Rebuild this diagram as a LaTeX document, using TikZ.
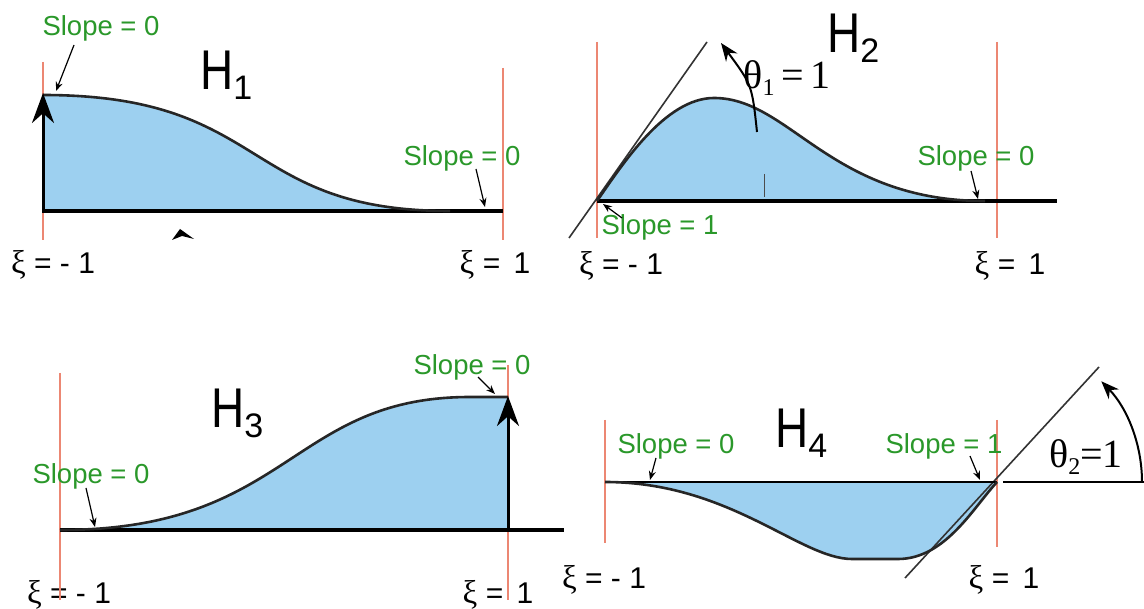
\documentclass[tikz,border=0pt]{standalone}
\usepackage{fontspec}
\setmainfont{Liberation Sans}
\newfontfamily\serifgr{Liberation Serif}
\usetikzlibrary{arrows.meta}
\definecolor{redline}{RGB}{236,135,115}
\definecolor{fillblue}{RGB}{157,208,240}
\definecolor{slopegreen}{RGB}{42,152,42}
\newcommand{\xilab}[1]{{\serifgr\fontsize{33}{33}\selectfont ξ}#1}
\newcommand{\hlab}[1]{\scalebox{0.82}[1]{H}\raisebox{-10pt}{\fontsize{34}{34}\selectfont #1}}
\begin{document}
\begin{tikzpicture}[x=1pt,y=-1pt,
  redl/.style={draw=redline,line width=2pt},
  curve/.style={draw=black!85,line width=2.6pt},
  base/.style={draw=black,line width=4pt},
  thinbase/.style={draw=black,line width=2.4pt},
  slopelbl/.style={text=slopegreen,font=\fontsize{27.5}{27.5}\selectfont,inner sep=0pt},
  xilbl/.style={font=\fontsize{30}{30}\selectfont,inner sep=0pt},
  hlbl/.style={font=\fontsize{56}{56}\selectfont,inner sep=0pt,anchor=base west},
  thetalbl/.style={font=\serifgr\fontsize{40}{40}\selectfont,inner sep=0pt},
  ptr/.style={draw=black,line width=1.2pt,-{Stealth[length=9pt,width=7pt]}},
  tang/.style={draw=black!80,line width=1.6pt},
  bigarrow/.style={draw=black,line width=3pt,-{Stealth[length=30pt,width=22pt]}},
  anglearrow/.style={draw=black,line width=2pt,-{Stealth[length=18pt,width=14pt]}},
]
\fill[white] (0,0) rectangle (1144,609);
\useasboundingbox (0,0) rectangle (1144,609);

% ================= H1
\fill[fillblue] (43,211) -- (43,95) .. controls (270,95) and (240,211) .. (450,211) -- cycle;
\draw[redl] (43,62) -- (43,240);
\draw[redl] (503,68) -- (503,240);
\draw[base] (43,211) -- (503,211);
\draw[curve] (43,95) .. controls (270,95) and (240,211) .. (450,211);
\coordinate (h1b) at (43,213);
\coordinate (h1t) at (43,93);
\draw[bigarrow] (h1b) -- (h1t);
\fill (172,240) -- (180,229) -- (194,239) -- (182,236) -- cycle;
\node[slopelbl] (s1a) at (101,28) {Slope = 0};
\node[slopelbl] (s1b) at (462,158) {Slope = 0};
\coordinate (p1a) at (74,45);  \coordinate (q1a) at (56,91);
\coordinate (p1b) at (476,169); \coordinate (q1b) at (485,207);
\draw[ptr] (p1a) -- (q1a);
\draw[ptr] (p1b) -- (q1b);
\node[hlbl] (H1) at (200,90) {\hlab{1}};
\node[xilbl] (x1a) at (53,265) {\xilab{ = - 1}};
\node[xilbl] (x1b) at (495,265) {\xilab{ = \,1}};

% ================= H2
\fill[fillblue] (597,201) .. controls (622,165) and (665,98) .. (714,98)
   .. controls (790,98) and (830,201) .. (985,201) -- cycle;
\draw[redl] (597,42) -- (597,238);
\draw[redl] (997,42) -- (997,238);
\coordinate (t2a) at (569,238); \coordinate (t2b) at (707,42);
\draw[tang] (t2a) -- (t2b);
\draw[base] (597,201) -- (1057,201);
\draw[curve] (597,201) .. controls (622,165) and (665,98) .. (714,98)
   .. controls (790,98) and (830,201) .. (985,201);
\draw[draw=black!70,line width=1pt] (764,174) -- (764,197);
\coordinate (a2s) at (757,132); \coordinate (a2e) at (721,43);
\draw[anglearrow] (a2s) .. controls (752,85) .. (a2e);
\node[thetalbl] (th1) at (787,78) {θ\raisebox{-7pt}{\fontsize{24}{24}\selectfont 1}\,=\,1};
\node[hlbl] (H2) at (827,53) {\hlab{2}};
\node[slopelbl] (s2a) at (976,158) {Slope = 0};
\node[slopelbl] (s2b) at (660,227) {Slope = 1};
\coordinate (p2a) at (971,171); \coordinate (q2a) at (978,199);
\coordinate (p2b) at (622,218); \coordinate (q2b) at (603,204);
\draw[ptr] (p2a) -- (q2a);
\draw[ptr] (p2b) -- (q2b);
\node[xilbl] (x2a) at (621,266) {\xilab{ = - 1}};
\node[xilbl] (x2b) at (1010,266) {\xilab{ = \,1}};

% ================= H3
\fill[fillblue] (60,530) .. controls (290,530) and (290,397) .. (470,397) -- (508,397) -- (508,530) -- cycle;
\node[xilbl] (x3a) at (69,595) {\xilab{ = - 1}};
\node[xilbl] (x3b) at (498,595) {\xilab{ = \,1}};
\draw[redl] (60,373) -- (60,600);
\draw[redl] (508,365) -- (508,600);
\draw[base] (60,530) -- (564,530);
\draw[curve] (60,530) .. controls (290,530) and (290,397) .. (470,397) -- (508,397);
\coordinate (h3b) at (508,532);
\coordinate (h3t) at (508,396);
\draw[bigarrow] (h3b) -- (h3t);
\node[slopelbl] (s3a) at (472,367) {Slope = 0};
\node[slopelbl] (s3b) at (91,476) {Slope = 0};
\coordinate (p3a) at (478,377); \coordinate (q3a) at (495,394);
\coordinate (p3b) at (86,488);  \coordinate (q3b) at (95,527);
\draw[ptr] (p3a) -- (q3a);
\draw[ptr] (p3b) -- (q3b);
\node[hlbl] (H3) at (211,428) {\hlab{3}};

% ================= H4
\fill[fillblue] (605,482) .. controls (730,482) and (800,559) .. (852,559) -- (898,559)
   .. controls (945,559) and (973,508) .. (997,482) -- cycle;
\draw[redl] (605,420) -- (605,543);
\draw[redl] (997,420) -- (997,547);
\coordinate (t4a) at (905,578); \coordinate (t4b) at (1099,367);
\draw[tang] (t4a) -- (t4b);
\draw[thinbase] (605,482) -- (997,482);
\coordinate (r4a) at (1003,482); \coordinate (r4b) at (1144,482);
\draw[draw=black,line width=2pt] (r4a) -- (r4b);
\draw[curve] (605,482) .. controls (730,482) and (800,559) .. (852,559) -- (898,559)
   .. controls (945,559) and (973,508) .. (997,482);
\draw[anglearrow] (1142,482) arc[start angle=0,end angle=-44,radius=145];
\node[thetalbl] (th2) at (1086,457) {θ\raisebox{-7pt}{\fontsize{24}{24}\selectfont 2}=1};
\node[slopelbl] (s4a) at (676,446) {Slope = 0};
\node[slopelbl] (s4b) at (944,446) {Slope = 1};
\coordinate (p4a) at (656,458); \coordinate (q4a) at (650,480);
\coordinate (p4b) at (970,456); \coordinate (q4b) at (980,480);
\draw[ptr] (p4a) -- (q4a);
\draw[ptr] (p4b) -- (q4b);
\node[hlbl] (H4) at (775,448) {\hlab{4}};
\node[xilbl] (x4a) at (604,580) {\xilab{ = - 1}};
\node[xilbl] (x4b) at (1004,580) {\xilab{ = \,1}};
\end{tikzpicture}
\end{document}
